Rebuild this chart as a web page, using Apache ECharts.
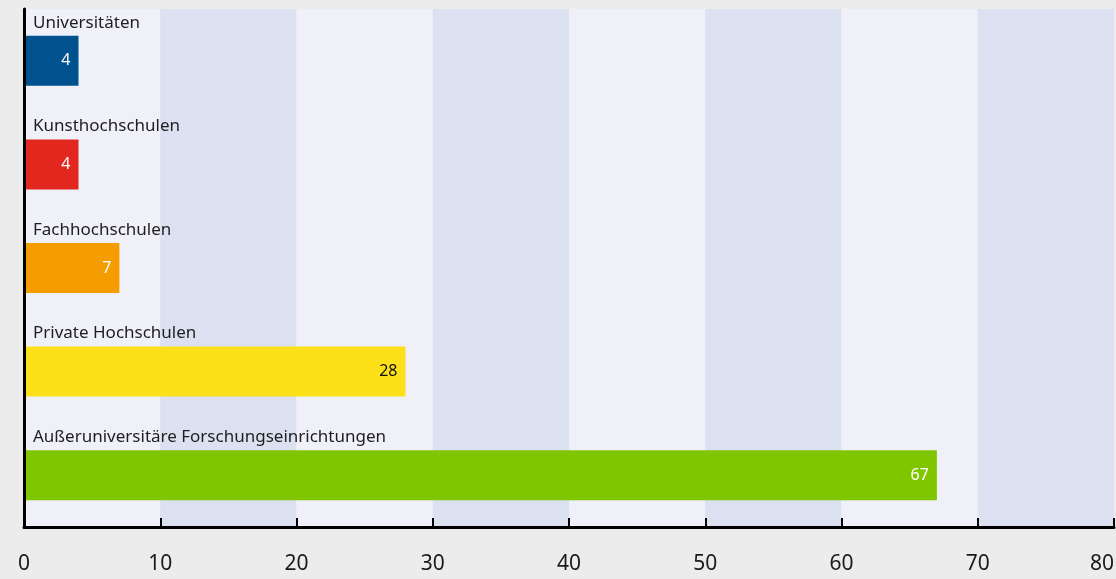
<!DOCTYPE html>
<html>
<head>
<meta charset="utf-8">
<style>
  html, body { margin: 0; padding: 0; background: #ececec; }
  #chart { width: 1116px; height: 579px; }
</style>
<script src="https://cdn.jsdelivr.net/npm/echarts@6/dist/echarts.min.js"></script>
</head>
<body>
<div id="chart"></div>
<script>
// Institution types and their counts
const categories = [
  'Universitäten',
  'Kunsthochschulen',
  'Fachhochschulen',
  'Private Hochschulen',
  'Außeruniversitäre Forschungseinrichtungen'
];
const values = [4, 4, 7, 28, 67];
const barColors = ['#00528f', '#e2281e', '#f49c00', '#fce01a', '#80c600'];
const valueLabelColors = ['#ffffff', '#ffffff', '#ffffff', '#111111', '#ffffff'];
const xTicks = [0, 10, 20, 30, 40, 50, 60, 70, 80];

const FONT = '"Noto Sans", sans-serif';

const chart = echarts.init(document.getElementById('chart'), null, { renderer: 'canvas' });

chart.setOption({
  backgroundColor: '#ececec',
  animation: false,
  grid: { left: 24, right: 2, top: 9, bottom: 52, containLabel: false, outerBoundsMode: 'none' },
  xAxis: {
    type: 'value',
    min: xTicks[0],
    max: xTicks[xTicks.length - 1],
    interval: xTicks[1] - xTicks[0],
    axisLine: { show: true, lineStyle: { color: '#000', width: 3 } },
    axisTick: { show: true, inside: true, length: 9, lineStyle: { color: '#000', width: 2 } },
    axisLabel: { color: '#1a1a1a', fontSize: 21, fontFamily: FONT, margin: 27, alignMaxLabel: 'right' },
    splitLine: { show: false },
    splitArea: { show: true, areaStyle: { color: ['#eff0f8', '#dce1f1'] } }
  },
  yAxis: {
    type: 'category',
    data: categories,
    inverse: true,
    axisLine: { show: true, lineStyle: { color: '#000', width: 3 } },
    axisTick: { show: false },
    axisLabel: {
      inside: true,
      margin: 9,
      formatter: (v) => '{t|' + v + '}',
      rich: {
        t: {
          color: '#1e1e1e',
          fontSize: 17,
          fontFamily: FONT,
          align: 'left',
          padding: [0, 0, 76, 0]
        }
      }
    },
    z: 5
  },
  series: [{
    type: 'bar',
    barWidth: 50,
    data: values.map((v, i) => ({
      value: v,
      itemStyle: { color: barColors[i] },
      label: { color: valueLabelColors[i] }
    })),
    label: {
      show: true,
      position: 'insideRight',
      distance: 8,
      fontSize: 16,
      fontFamily: FONT
    }
  }]
});
</script>
</body>
</html>
